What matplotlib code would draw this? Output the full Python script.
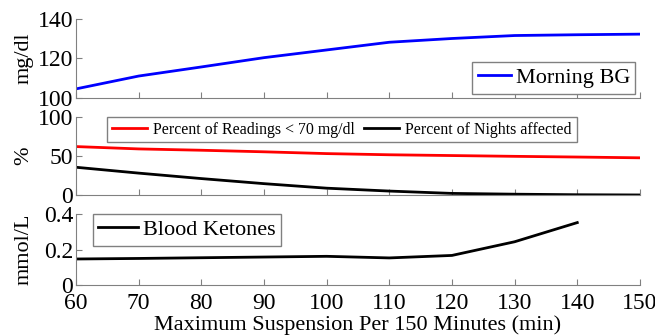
import matplotlib.pyplot as plt
import numpy as np

plt.rc('font', family='Liberation Serif', size=16)

# suspension limit (min)
t = [60, 70, 80, 90, 100, 110, 120, 130, 140, 150]

morning_bg = [104.6, 111.1, 115.7, 120.4, 124.3, 128.2, 130.1, 131.6, 132.0, 132.3]
pct_low    = [62.0, 59.0, 57.3, 55.3, 53.0, 51.5, 50.5, 49.5, 48.6, 47.6]
pct_nights = [35.5, 28.0, 21.0, 14.5, 8.7, 5.0, 2.0, 1.0, 0.3, 0.0]

t_ket   = [60, 70, 80, 90, 100, 110, 120, 130, 140]
ketones = [0.147, 0.150, 0.154, 0.158, 0.162, 0.153, 0.167, 0.244, 0.352]

fig = plt.figure(figsize=(6.55, 3.35), dpi=100)
ax1 = fig.add_axes([0.116, 0.7075, 0.861, 0.236])
ax2 = fig.add_axes([0.116, 0.418, 0.861, 0.233])
ax3 = fig.add_axes([0.116, 0.149, 0.861, 0.212])

ax1.plot(t, morning_bg, color='blue', lw=2, label='Morning BG')
ax1.set_ylim(100, 140)
ax1.set_yticks([100, 120, 140])
ax1.set_ylabel('mg/dl')
ax1.legend(loc='lower right', fancybox=False, edgecolor='gray',
           handlelength=1.5, handletextpad=0.2, borderpad=0.25,
           borderaxespad=0.2, framealpha=1)

ax2.plot(t, pct_low, color='red', lw=2, label='Percent of Readings < 70 mg/dl')
ax2.plot(t, pct_nights, color='black', lw=2, label='Percent of Nights affected')
ax2.set_ylim(0, 100)
ax2.set_yticks([0, 50, 100])
ax2.set_ylabel('%')
ax2.legend(loc='upper left', bbox_to_anchor=(0.055, 1.0), ncol=2,
           fontsize=11.4, fancybox=False, edgecolor='gray',
           handlelength=2.2, handletextpad=0.4, columnspacing=0.6,
           borderpad=0.3, borderaxespad=0, framealpha=1)

ax3.plot(t_ket, ketones, color='black', lw=2, label='Blood Ketones')
ax3.set_ylim(0, 0.4)
ax3.set_yticks([0, 0.2, 0.4])
ax3.set_yticklabels(['0', '0.2', '0.4'])
ax3.set_ylabel('mmol/L')
ax3.set_xlabel('Maximum Suspension Per 150 Minutes (min)', labelpad=1)
ax3.legend(loc='upper left', bbox_to_anchor=(0.03, 1.0),
           fancybox=False, edgecolor='gray',
           handlelength=1.8, handletextpad=0.2, borderpad=0.25,
           borderaxespad=0, framealpha=1)

for ax in (ax1, ax2, ax3):
    ax.set_xlim(60, 150)
    ax.set_xticks(np.arange(60, 151, 10))
    ax.spines['top'].set_visible(False)
    ax.spines['right'].set_visible(False)
    ax.spines['left'].set_color('gray')
    ax.spines['bottom'].set_color('gray')
    ax.tick_params(direction='in', length=4, color='gray', pad=2,
                   labelsize=17)
    ax.tick_params(axis='x', pad=5.5)
    ax.yaxis.set_label_coords(-0.076, 0.5)
for ax in (ax1, ax2):
    ax.tick_params(labelbottom=False)

plt.savefig('out.png', dpi=100)
